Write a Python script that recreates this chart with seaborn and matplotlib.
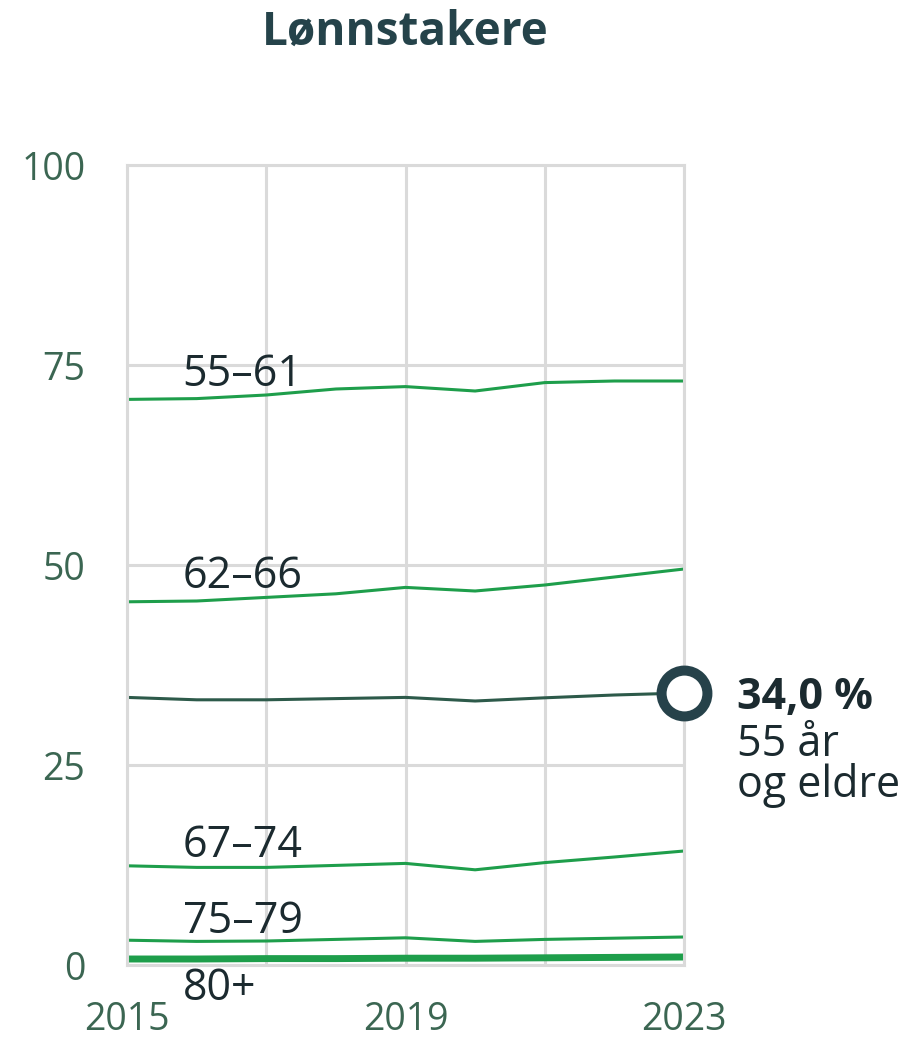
import pandas as pd
import matplotlib.pyplot as plt
import seaborn as sns

# values (percent of employees, 2015-2023)
years = [2015, 2016, 2017, 2018, 2019, 2020, 2021, 2022, 2023]
age_55_61 = [70.7, 70.8, 71.25, 72.0, 72.3, 71.75, 72.8, 73.0, 73.0]
age_62_66 = [45.4, 45.5, 45.95, 46.4, 47.2, 46.75, 47.5, 48.5, 49.5]
age_55_plus = [33.45, 33.15, 33.15, 33.3, 33.45, 33.0, 33.4, 33.75, 34.0]
age_67_74 = [12.4, 12.2, 12.2, 12.45, 12.7, 11.9, 12.8, 13.5, 14.25]
age_75_79 = [3.1, 2.95, 3.0, 3.2, 3.4, 2.95, 3.2, 3.35, 3.5]
age_80_plus = [0.75, 0.75, 0.8, 0.8, 0.85, 0.85, 0.9, 0.95, 1.0]

series_names = ['55–61', '62–66', '67–74', '75–79', '80+']
# baseline of each series label, in data units
label_y = [72.4, 47.1, 13.5, 4.0, -4.4]

x_ticks = [2015, 2017, 2019, 2021, 2023]
x_labels = ['2015', '', '2019', '', '2023']
y_ticks = [0, 25, 50, 75, 100]

green = '#1e9e4b'
dark_line = '#2d5a4a'
ring = '#26424a'
tick_col = '#3b6652'
text_col = '#1b2a2f'
grid_col = '#dadada'

sns.set_theme(style='whitegrid')
plt.rcParams['font.family'] = ['Open Sans', 'DejaVu Sans']

df = pd.DataFrame({
    'year': years * 5,
    'value': age_55_61 + age_62_66 + age_67_74 + age_75_79 + age_80_plus,
    'group': [n for n in series_names for _ in years],
})

fig = plt.figure(figsize=(9.18, 10.41), dpi=100)
ax = fig.add_axes([127 / 918, 76 / 1041, 557 / 918, 800 / 1041])

for name in series_names:
    lw = 5 if name == '80+' else 2.2
    sns.lineplot(data=df[df['group'] == name], x='year', y='value', color=green,
                 linewidth=lw, ax=ax, legend=False, solid_capstyle='butt')

# total 55 and older
sns.lineplot(x=years, y=age_55_plus, color=dark_line, linewidth=2.2, ax=ax, legend=False)
ax.plot([years[-1]], [age_55_plus[-1]], marker='o', markersize=33, markerfacecolor='white',
        markeredgecolor=ring, markeredgewidth=7.2, clip_on=False, zorder=5)

for name, ly in zip(series_names, label_y):
    ax.text(2015.8, ly, name, fontsize=31, color=text_col, va='baseline', ha='left')

ytr = ax.get_yaxis_transform()
ax.text(1.095, 32.0, f"{age_55_plus[-1]:.1f} %".replace('.', ','), transform=ytr,
        fontsize=31, fontweight='bold', color=text_col, va='baseline', ha='left')
ax.text(1.095, 21.0, '55 år\nog eldre', transform=ytr, fontsize=31, color=text_col,
        va='baseline', ha='left', linespacing=0.87)

ax.set_xlim(2015, 2023)
ax.set_ylim(0, 100)
ax.set_xticks(x_ticks)
ax.set_xticklabels(x_labels)
ax.set_yticks(y_ticks)
ax.set_xlabel('')
ax.set_ylabel('')
ax.tick_params(axis='both', labelsize=27, colors=tick_col, length=0)
ax.tick_params(axis='x', pad=26)
ax.tick_params(axis='y', pad=30)
ax.grid(True, color=grid_col, linewidth=2.2)
for s in ax.spines.values():
    s.set_color(grid_col)
    s.set_linewidth(2.2)
ax.set_axisbelow(True)

fig.text(405 / 918, 1 - 32 / 1041, 'Lønnstakere', fontsize=33, fontweight='bold',
         color='#25434a', ha='center', va='center')

fig.savefig('out.png', dpi=100)
